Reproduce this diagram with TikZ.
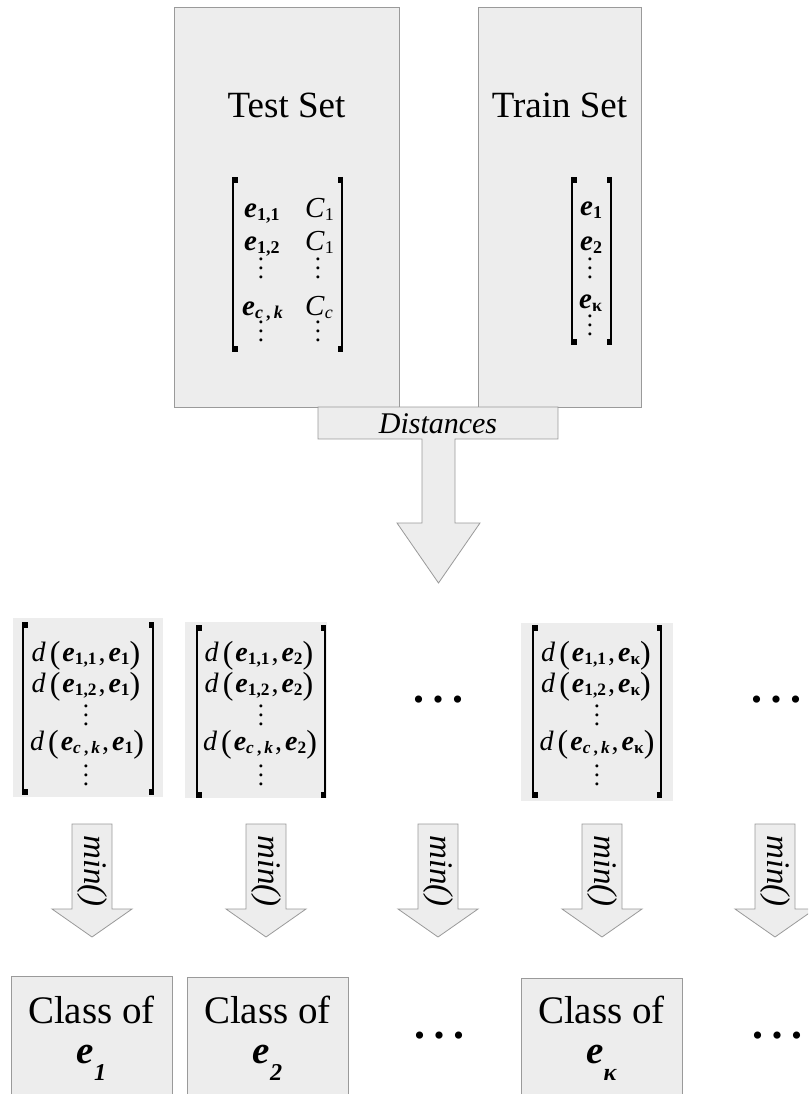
\documentclass[tikz,border=0pt]{standalone}
\usepackage{fontspec}
\setmainfont{Liberation Serif}
\definecolor{panelgray}{HTML}{EDEDED}
\definecolor{framegray}{HTML}{9A9A9A}
% bold italic vector e and helpers for sub-scripts and vertical dots
\newcommand{\vece}{\textbf{\textit{e}}}
\newcommand{\lowsub}[2][0.12em]{\raisebox{-#1}{\scalebox{0.62}{#2}}}
\newcommand{\cksub}{\textbf{\textit{c}\hspace{5pt},\hspace{5pt}\textit{k}}}
\newcommand{\tridots}{\vbox{\baselineskip=9pt\lineskiplimit=-20pt\hbox{.}\hbox{.}\hbox{.}}}
\newcommand{\rowdots}{\textbullet\hspace{9pt}\textbullet\hspace{9pt}\textbullet}
\newcommand{\fsz}[1]{\fontsize{#1}{#1}\selectfont}
% square brackets: left x, right x, top y, bottom y
\newcommand{\mbrackets}[4]{%
  \draw[line width=1.5pt] (#1,#3) -- (#1,#4);
  \fill (#1-0.75,#3) rectangle (#1+4.5,#3+6);
  \fill (#1-0.75,#4) rectangle (#1+4.5,#4-6);
  \draw[line width=1.5pt] (#2,#3) -- (#2,#4);
  \fill (#2+0.75,#3) rectangle (#2-4.5,#3+6);
  \fill (#2+0.75,#4) rectangle (#2-4.5,#4-6);
}
% downward block arrow: centre x, shaft top, head base, tip
\newcommand{\minarrow}[4]{%
  \filldraw[blockarrow] (#1-20,#2) -- (#1+20,#2) -- (#1+20,#3) -- (#1+40,#3)
    -- (#1,#4) -- (#1-40,#3) -- (#1-20,#3) -- cycle;
}
% distance entry d(a, b)
\newcommand{\dd}[2]{\textit{d}\hspace{4pt}{\fsz{32}\raisebox{-2pt}{(}}\hspace{2pt}\vece\lowsub{#1}\hspace{2pt},\hspace{3pt}\vece\lowsub{#2}{\fsz{32}\raisebox{-2pt}{)}}}
\tikzset{
  panel/.style={draw=framegray, fill=panelgray, line width=0.8pt},
  blockarrow/.style={draw=framegray, fill=panelgray, line width=0.8pt, line join=miter},
  mtxbg/.style={fill=panelgray},
  txt/.style={inner sep=0pt, anchor=base},
  txtw/.style={inner sep=0pt, anchor=base west},
  dotcol/.style={inner sep=0pt, anchor=center, font=\fsz{25}},
  hdots/.style={inner sep=0pt, anchor=center, font=\fsz{30}},
  minlabel/.style={inner sep=0pt, anchor=center, rotate=-90, font=\fsz{33}\itshape},
}
\begin{document}
\begin{tikzpicture}[x=1pt,y=-1pt]
\useasboundingbox (0,0) rectangle (808,1094);
\clip (0,0) rectangle (808,1094);

% ---- data sets ----
\path[panel] (174,7) rectangle (399,407);
\path[panel] (478,7) rectangle (641,407);
\node[txt, font=\fsz{37}] (testtitle) at (286.5,118) {Test Set};
\node[txt, font=\fsz{37}] (traintitle) at (559.5,118) {Train Set};

% test set matrix
\mbrackets{233}{342}{177}{352}
\begin{scope}[every node/.style={txtw, font=\fsz{29}}]
  \node (t11) at (244,217) {\vece\lowsub{\textbf{1,1}}};
  \node (t12) at (244,250) {\vece\lowsub{\textbf{1,2}}};
  \node (tck) at (242,315) {\vece\lowsub{\cksub}};
  \node (c1a) at (305,217) {\textit{C}\lowsub{1}};
  \node (c1b) at (305,250) {\textit{C}\lowsub{1}};
  \node (cc)  at (305,315) {\textit{C}\lowsub{\textit{c}}};
\end{scope}
\node[dotcol] (tdots1) at (261,268) {\tridots};
\node[dotcol] (tdots2) at (261,331) {\tridots};
\node[dotcol] (cdots1) at (318,268) {\tridots};
\node[dotcol] (cdots2) at (318,331) {\tridots};

% train set matrix
\mbrackets{572}{611}{177}{345}
\begin{scope}[every node/.style={txtw, font=\fsz{29}}]
  \node (r1) at (580,215) {\vece\lowsub{\textbf{1}}};
  \node (r2) at (580,250) {\vece\lowsub{\textbf{2}}};
  \node (rk) at (579,308) {\vece\lowsub{\textbf{κ}}};
\end{scope}
\node[dotcol] (rdots1) at (590,268) {\tridots};
\node[dotcol] (rdots2) at (590,325) {\tridots};

% ---- distance computation ----
\fill[panelgray] (318,407) rectangle (558,439);
\fill[panelgray] (422,438) -- (455,438) -- (455,523) -- (480,523) -- (438.5,583)
  -- (397,523) -- (422,523) -- cycle;
\draw[framegray, line width=0.8pt, line join=miter]
  (318,407) -- (558,407) -- (558,439) -- (455,439) -- (455,523) -- (480,523)
  -- (438.5,583) -- (397,523) -- (422,523) -- (422,439) -- (318,439) -- cycle;
\node[txt, font=\fsz{30}\itshape] (dist) at (438,433) {Distances};

% ---- distance matrices ----
\fill[mtxbg] (13,618) rectangle (163,797);
\fill[mtxbg] (185,622) rectangle (327,798);
\fill[mtxbg] (521,623) rectangle (673,801);
\mbrackets{23}{153}{622}{795}
\mbrackets{197}{325}{625}{798}
\mbrackets{533}{661}{625}{798}

\begin{scope}[every node/.style={txt, font=\fsz{28}}]
  \node (a1) at (86,661) {\dd{\textbf{1,1}}{\textbf{1}}};
  \node (a2) at (86,692) {\dd{\textbf{1,2}}{\textbf{1}}};
  \node (a3) at (87,750) {\dd{\cksub}{\textbf{1}}};
  \node (b1) at (259,661) {\dd{\textbf{1,1}}{\textbf{2}}};
  \node (b2) at (259,692) {\dd{\textbf{1,2}}{\textbf{2}}};
  \node (b3) at (260,750) {\dd{\cksub}{\textbf{2}}};
  \node (k1) at (596,661) {\dd{\textbf{1,1}}{\textbf{κ}}};
  \node (k2) at (596,692) {\dd{\textbf{1,2}}{\textbf{κ}}};
  \node (k3) at (597,750) {\dd{\cksub}{\textbf{κ}}};
\end{scope}
\node[dotcol] (adots1) at (86,715) {\tridots};
\node[dotcol] (adots2) at (86,775) {\tridots};
\node[dotcol] (bdots1) at (261,715) {\tridots};
\node[dotcol] (bdots2) at (261,775) {\tridots};
\node[dotcol] (kdots1) at (597,715) {\tridots};
\node[dotcol] (kdots2) at (597,775) {\tridots};
\node[hdots] (hdots1) at (438,703) {\rowdots};
\node[hdots] (hdots2) at (776,703) {\rowdots};

% ---- minimum selection ----
\foreach \cx/\nm in {92/m1, 266/m2, 438/m3, 602/m4, 775/m5} {
  \minarrow{\cx}{824}{909}{937}
  \node[minlabel] (\nm) at (\cx,871) {min()};
}

% ---- resulting classes ----
\path[panel] (11,976) rectangle (172,1110);
\path[panel] (187,977) rectangle (348,1110);
\path[panel] (521,978) rectangle (682,1110);
\begin{scope}[every node/.style={txt, font=\fsz{39}}]
  \node (cl1) at (91.5,1023) {Class of};
  \node (cl2) at (267.5,1023) {Class of};
  \node (cl3) at (601.5,1023) {Class of};
  \node (ce1) at (91.5,1063) {\vece\lowsub[0.45em]{\textbf{\textit{1}}}};
  \node (ce2) at (267.5,1063) {\vece\lowsub[0.45em]{\textbf{\textit{2}}}};
  \node (ce3) at (601.5,1063) {\vece\lowsub[0.45em]{\textbf{\textit{κ}}}};
\end{scope}
\node[hdots] (hdots3) at (439,1039) {\rowdots};
\node[hdots] (hdots4) at (777,1039) {\rowdots};
\end{tikzpicture}
\end{document}
